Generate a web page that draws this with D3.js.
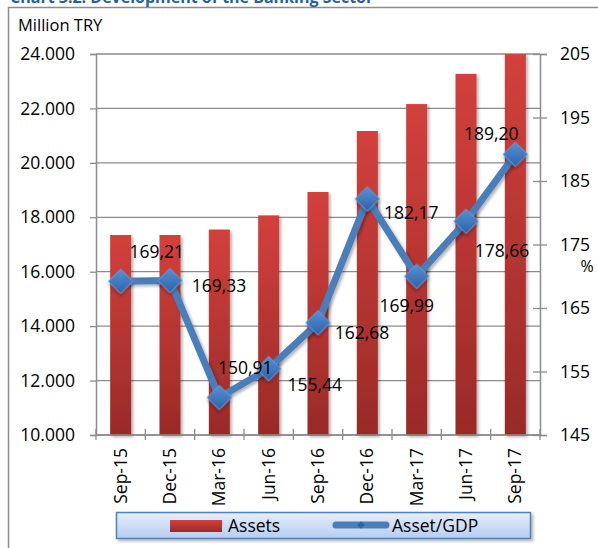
<!DOCTYPE html>
<html>
<head>
<meta charset="utf-8">
<script src="https://cdn.jsdelivr.net/npm/d3@7"></script>
<style>
  body { margin: 0; background: #fff; }
  svg text { font-family: "Open Sans", "Liberation Sans", sans-serif; fill: #000; }
</style>
</head>
<body>
<script>
// quarters on the x axis
var quarters = ["Sep-15", "Dec-15", "Mar-16", "Jun-16", "Sep-16", "Dec-16", "Mar-17", "Jun-17", "Sep-17"];
// total assets, million TRY (left axis)
var assets = [17350, 17350, 17550, 18070, 18930, 21170, 22160, 23270, 24000];
// asset / GDP, % (right axis)
var assetGdp = [169.21, 169.33, 150.91, 155.44, 162.68, 182.17, 169.99, 178.66, 189.20];
var leftTicks = [10000, 12000, 14000, 16000, 18000, 20000, 22000, 24000];
var rightTicks = [145, 155, 165, 175, 185, 195, 205];

// where each data label sits relative to its point (dx, dy)
var labelOffsets = [[36, -29], [49, 5], [26, -30], [46, 16], [44, 10], [44, 14], [-10, 30], [36, 30], [-24, -20]];

var W = 598, H = 548;
var plot = {left: 96, right: 540, top: 54, bottom: 435};

var loc = d3.formatLocale({decimal: ",", thousands: ".", grouping: [3], currency: ["", ""]});
var fmtThousands = loc.format(",.0f");
var fmtPct = loc.format(".2f");

var svg = d3.select("body").append("svg")
  .attr("width", W)
  .attr("height", H);

var defs = svg.append("defs");

var barGrad = defs.append("linearGradient")
  .attr("id", "barGrad")
  .attr("x1", 0).attr("y1", 0).attr("x2", 0).attr("y2", 1);
barGrad.append("stop").attr("offset", "0%").attr("stop-color", "#d3403c");
barGrad.append("stop").attr("offset", "100%").attr("stop-color", "#992a27");

var legGrad = defs.append("linearGradient")
  .attr("id", "legGrad")
  .attr("x1", 0).attr("y1", 0).attr("x2", 0).attr("y2", 1);
legGrad.append("stop").attr("offset", "0%").attr("stop-color", "#e6eefb");
legGrad.append("stop").attr("offset", "100%").attr("stop-color", "#b6cdf0");

var dGrad = defs.append("linearGradient")
  .attr("id", "dGrad")
  .attr("x1", 0).attr("y1", 0).attr("x2", 1).attr("y2", 1);
dGrad.append("stop").attr("offset", "0%").attr("stop-color", "#5590d6");
dGrad.append("stop").attr("offset", "100%").attr("stop-color", "#2d63a8");

var shadow = defs.append("filter").attr("id", "shadow")
  .attr("x", "-30%").attr("y", "-30%").attr("width", "160%").attr("height", "160%");
shadow.append("feDropShadow")
  .attr("dx", 2).attr("dy", 2).attr("stdDeviation", 1.5)
  .attr("flood-color", "#000").attr("flood-opacity", 0.3);

// outer frame
svg.append("rect")
  .attr("x", 8.5).attr("y", 7.5)
  .attr("width", 600).attr("height", 580)
  .attr("fill", "#fff")
  .attr("stroke", "#8c8c8c")
  .attr("stroke-width", 1.5);

// title, mostly cut off at the top
svg.append("text")
  .attr("x", 10).attr("y", 3)
  .style("font-weight", "bold")
  .style("font-size", "16px")
  .style("fill", "#1f5fa6")
  .text("Chart 3.2: Development of the Banking Sector");

var x = d3.scaleBand()
  .domain(quarters)
  .range([plot.left, plot.right])
  .paddingInner(0.574)
  .paddingOuter(0.287);

var yL = d3.scaleLinear().domain([10000, 24000]).range([plot.bottom, plot.top]);
var yR = d3.scaleLinear().domain([145, 205]).range([plot.bottom, plot.top]);

function cx(q) { return x(q) + x.bandwidth() / 2; }

// gridlines
svg.append("g").selectAll("line")
  .data(leftTicks)
  .enter().append("line")
  .attr("x1", plot.left).attr("x2", plot.right)
  .attr("y1", function(d) { return yL(d); })
  .attr("y2", function(d) { return yL(d); })
  .attr("stroke", "#8c8c8c")
  .attr("stroke-width", 1.3);

// left axis
var gL = svg.append("g")
  .attr("transform", "translate(" + plot.left + ",0)")
  .call(d3.axisLeft(yL).tickValues(leftTicks).tickSize(6).tickPadding(15).tickFormat(fmtThousands));
gL.select(".domain").attr("stroke", "#8c8c8c").attr("stroke-width", 1.5);
gL.selectAll(".tick line").attr("stroke", "#8c8c8c").attr("stroke-width", 1.3);
gL.selectAll("text").style("font-size", "17.5px").attr("font-family", null);

// right axis
var gR = svg.append("g")
  .attr("transform", "translate(" + plot.right + ",0)")
  .call(d3.axisRight(yR).tickValues(rightTicks).tickSize(7).tickPadding(13));
gR.select(".domain").attr("stroke", "#8c8c8c").attr("stroke-width", 1.5);
gR.selectAll(".tick line").attr("x1", -7).attr("stroke", "#8c8c8c").attr("stroke-width", 1.3);
gR.selectAll("text").style("font-size", "17.5px").attr("font-family", null);

// bars
svg.append("g").selectAll("rect")
  .data(assets)
  .enter().append("rect")
  .attr("x", function(d, i) { return x(quarters[i]); })
  .attr("width", x.bandwidth())
  .attr("y", function(d) { return yL(d); })
  .attr("height", function(d) { return plot.bottom - yL(d); })
  .attr("fill", "url(#barGrad)")
  .attr("filter", "url(#shadow)");

// bottom axis
var gB = svg.append("g")
  .attr("transform", "translate(0," + plot.bottom + ")")
  .call(d3.axisBottom(x).tickSize(0).tickPadding(0));
gB.select(".domain").remove();
gB.append("line")
  .attr("x1", plot.left).attr("x2", plot.right)
  .attr("stroke", "#8c8c8c").attr("stroke-width", 1.5);
gB.selectAll(".sep")
  .data(d3.range(quarters.length + 1))
  .enter().append("line")
  .attr("class", "sep")
  .attr("x1", function(i) { return plot.left + i * x.step(); })
  .attr("x2", function(i) { return plot.left + i * x.step(); })
  .attr("y1", -6).attr("y2", 5)
  .attr("stroke", "#8c8c8c").attr("stroke-width", 1.3);
gB.selectAll(".tick text")
  .attr("transform", "rotate(-90)")
  .attr("text-anchor", "end")
  .attr("x", -13)
  .attr("y", 0)
  .attr("dy", "0.35em")
  .attr("font-family", null)
  .style("font-size", "17.5px");

// asset/gdp line
var line = d3.line()
  .x(function(d, i) { return cx(quarters[i]); })
  .y(function(d) { return yR(d); });

svg.append("path")
  .datum(assetGdp)
  .attr("d", line)
  .attr("fill", "none")
  .attr("stroke", "#4a7ebb")
  .attr("stroke-width", 7)
  .attr("stroke-linejoin", "round")
  .attr("filter", "url(#shadow)");

svg.append("g").selectAll("path")
  .data(assetGdp)
  .enter().append("path")
  .attr("d", d3.symbol(d3.symbolSquare, 300))
  .attr("transform", function(d, i) {
    return "translate(" + cx(quarters[i]) + "," + yR(d) + ") rotate(45)";
  })
  .attr("fill", "url(#dGrad)")
  .attr("stroke", "#6a9ad6")
  .attr("stroke-width", 0.8)
  .attr("filter", "url(#shadow)");

// data labels
svg.append("g").selectAll("text")
  .data(assetGdp)
  .enter().append("text")
  .attr("x", function(d, i) { return cx(quarters[i]) + labelOffsets[i][0]; })
  .attr("y", function(d, i) { return yR(d) + labelOffsets[i][1]; })
  .attr("dy", "0.35em")
  .attr("text-anchor", "middle")
  .style("font-size", "17.5px")
  .text(function(d) { return fmtPct(d); });

// axis titles
svg.append("text")
  .attr("x", 18).attr("y", 25).attr("dy", "0.35em")
  .style("font-size", "16.5px")
  .text("Million TRY");

svg.append("text")
  .attr("x", 587).attr("y", 266).attr("dy", "0.35em")
  .attr("text-anchor", "middle")
  .style("font-size", "16px")
  .text("%");

// legend
var leg = svg.append("g");
leg.append("rect")
  .attr("x", 116.5).attr("y", 512.5)
  .attr("width", 414).attr("height", 26)
  .attr("fill", "url(#legGrad)")
  .attr("stroke", "#4f81bd")
  .attr("stroke-width", 1.5)
  .attr("filter", "url(#shadow)");
leg.append("rect")
  .attr("x", 170).attr("y", 520)
  .attr("width", 52).attr("height", 12)
  .attr("fill", "url(#barGrad)");
leg.append("text")
  .attr("x", 228).attr("y", 526).attr("dy", "0.35em")
  .style("font-size", "17.5px")
  .text("Assets");
leg.append("line")
  .attr("x1", 336).attr("x2", 386)
  .attr("y1", 525).attr("y2", 525)
  .attr("stroke", "#4a7ebb")
  .attr("stroke-width", 7)
  .attr("stroke-linecap", "round");
leg.append("path")
  .attr("d", d3.symbol(d3.symbolSquare, 30))
  .attr("transform", "translate(361,525) rotate(45)")
  .attr("fill", "#2d63a8");
leg.append("text")
  .attr("x", 392).attr("y", 526).attr("dy", "0.35em")
  .style("font-size", "17.5px")
  .text("Asset/GDP");
</script>
</body>
</html>
